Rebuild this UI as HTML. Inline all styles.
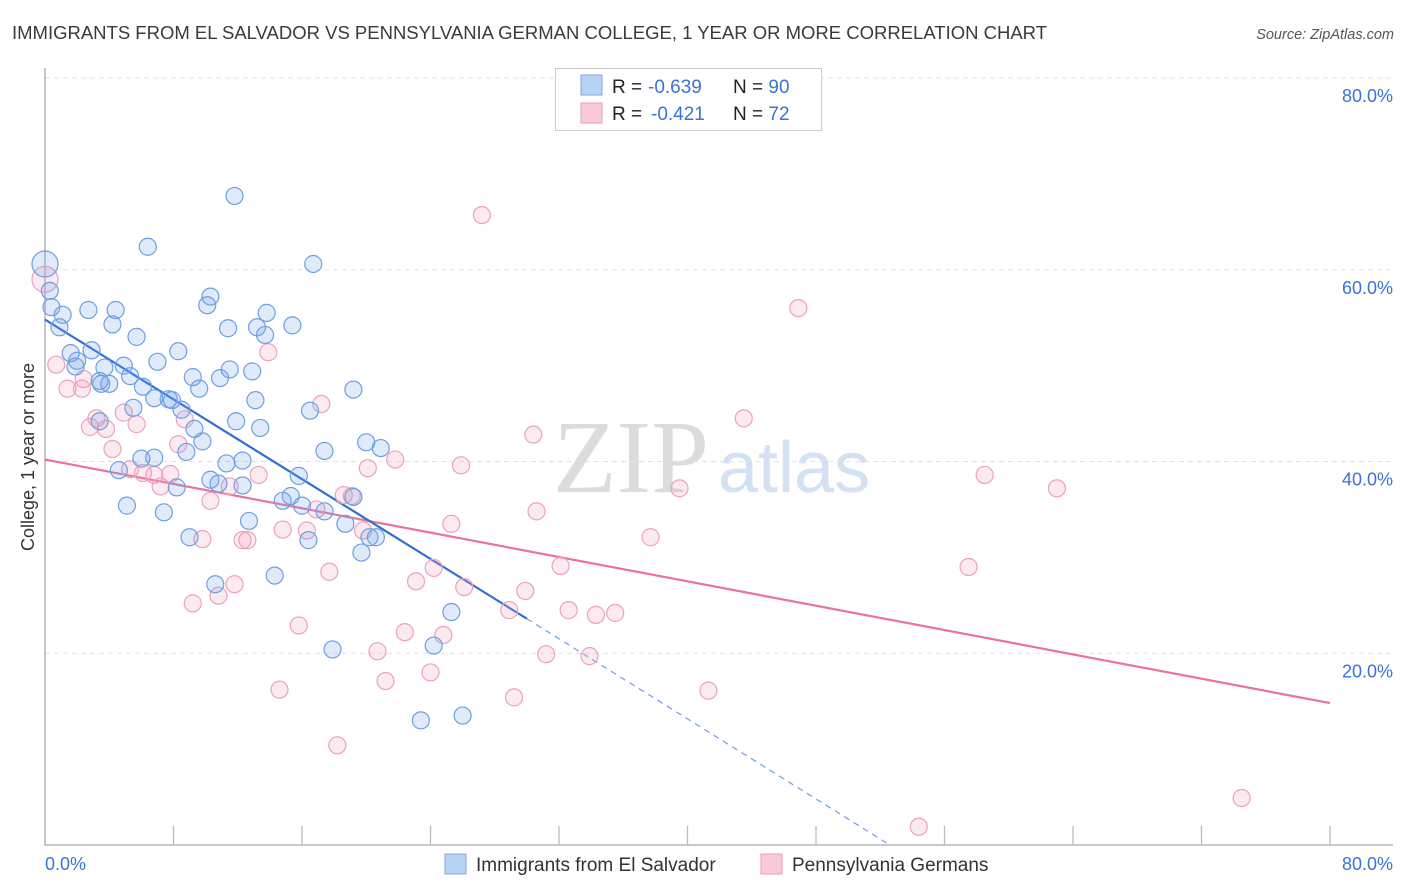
<!DOCTYPE html>
<html><head><meta charset="utf-8"><style>
body{margin:0;background:#fff;font-family:"Liberation Sans",sans-serif;}
#wrap{position:relative;width:1406px;height:892px;overflow:hidden;}
</style></head><body>
<div id="wrap">
<svg id="svg" width="1406" height="892" xmlns="http://www.w3.org/2000/svg" font-family="Liberation Sans, sans-serif">
<text x="12" y="39" font-size="18.5" fill="#3a3a3a" textLength="1035">IMMIGRANTS FROM EL SALVADOR VS PENNSYLVANIA GERMAN COLLEGE, 1 YEAR OR MORE CORRELATION CHART</text>
<text x="1394" y="39" font-size="14.5" fill="#555" font-style="italic" text-anchor="end">Source: ZipAtlas.com</text>
<text transform="translate(34,457) rotate(-90)" font-size="18" fill="#333" text-anchor="middle">College, 1 year or more</text>
<g>
<text x="553" y="492" font-size="104" fill="#dcdcdc" font-family="Liberation Serif, serif">ZIP</text>
<text x="718" y="492" font-size="72" fill="#d3e1f3">atlas</text>
</g>
<g id="grid"></g>
<g id="axes"></g>
<g id="lines"></g>
<g id="pts"></g>
<g>
<rect x="555.5" y="68.5" width="266" height="62" fill="#fff" stroke="#ccc"/>
<rect x="581" y="75" width="21" height="20" fill="#b8d3f5" stroke="#7aa8e6"/>
<rect x="581" y="103" width="21" height="20" fill="#fbcad9" stroke="#eb9ab5"/>
<text x="612" y="93" font-size="19" fill="#222">R = <tspan fill="#3a72d6" x="648">-0.639</tspan><tspan x="733">N = </tspan><tspan fill="#3a72d6">90</tspan></text>
<text x="612" y="120" font-size="19" fill="#222">R = <tspan fill="#3a72d6" x="651">-0.421</tspan><tspan x="733">N = </tspan><tspan fill="#3a72d6">72</tspan></text>
</g>
<g>
<rect x="445" y="854" width="21" height="20" fill="#b8d3f5" stroke="#7aa8e6"/>
<text x="476" y="871" font-size="19" fill="#333">Immigrants from El Salvador</text>
<rect x="761" y="854" width="21" height="20" fill="#fbcad9" stroke="#eb9ab5"/>
<text x="792" y="871" font-size="19" fill="#333">Pennsylvania Germans</text>
</g>
</svg>
</div>
<script>
const blueX=[0,0.3,0.4,1.1,0.9,2.7,4.4,4.2,5.7,1.6,2.9,2.0,3.4,3.7,3.5,4.0,1.9,4.9,5.3,6.1,7.0,8.3,6.4,11.8,16.7,10.3,10.1,11.4,13.8,13.2,13.7,15.4,11.5,12.9,10.9,9.2,9.6,6.8,7.7,8.5,7.9,5.5,3.4,9.3,9.8,11.9,13.1,13.4,16.5,19.2,20.0,20.9,17.4,8.8,6.0,6.8,11.3,12.3,4.6,8.2,10.3,10.8,12.3,15.8,15.3,14.8,16.0,17.4,18.7,19.2,20.2,20.6,19.7,12.7,7.4,5.1,9.0,16.4,10.6,14.3,17.9,25.3,24.2,23.4,26.0];
const blueY=[60.6,57.8,56.1,55.3,54.0,55.8,55.8,54.3,53.0,51.3,51.6,50.5,48.4,49.8,48.1,48.1,49.9,50.0,48.9,47.8,50.4,51.5,62.4,67.7,60.6,57.2,56.3,53.9,55.5,54.0,53.2,54.2,49.6,49.4,48.7,48.8,47.6,46.6,46.5,45.4,46.4,45.6,44.2,43.4,42.1,44.2,46.4,43.5,45.3,47.5,42.0,41.4,41.1,41.0,40.3,40.4,39.8,40.1,39.1,37.3,38.1,37.7,37.5,38.5,36.4,35.9,35.4,34.8,33.5,36.3,32.1,32.1,30.5,33.8,34.7,35.4,32.1,31.8,27.2,28.1,20.4,24.3,20.8,13.0,13.5];
const pinkX=[0,0.7,1.4,2.3,2.4,3.2,2.8,3.8,4.2,4.9,5.7,5.3,6.1,6.8,7.2,7.8,8.3,8.7,9.2,9.8,10.3,10.8,11.5,11.8,12.3,12.6,13.3,13.9,14.6,14.8,15.8,16.3,16.9,17.2,17.7,18.2,18.6,19.1,19.8,20.1,20.7,21.2,21.8,22.4,23.1,24.0,24.8,24.2,25.3,25.9,26.1,27.2,28.9,29.2,29.9,30.4,30.6,31.2,32.1,32.6,33.9,34.3,35.5,37.7,39.5,41.3,43.5,46.9,54.4,57.5,58.5,63.0,74.5];
const pinkY=[59.0,50.1,47.6,47.6,48.6,44.5,43.6,43.4,41.3,45.1,43.9,39.2,38.8,38.6,37.4,38.7,41.8,44.4,25.2,31.9,35.9,26.0,37.4,27.2,31.8,31.8,38.6,51.4,16.2,32.9,22.9,32.8,35.0,46.0,28.5,10.4,36.5,36.4,32.8,39.3,20.2,17.1,40.2,22.2,27.5,18.0,21.9,28.9,33.5,39.6,26.9,65.7,24.5,15.4,26.5,42.8,34.8,19.9,29.1,24.5,19.7,24.0,24.2,32.1,37.2,16.1,44.5,56.0,1.9,29.0,38.6,37.2,4.9];
const blueTrend=[[0,54.8],[30.0,23.6]];
const blueDash=[[30.0,23.6],[52.6,0]];
const pinkTrend=[[0,40.2],[80,14.8]];
const yTicks=[20,40,60,80];
const xTicks=[0,8,16,24,32,40,48,56,64,72,80];
const sx=v=>45+v*16.0625;
const sy=v=>845-v*9.5875;
const NS='http://www.w3.org/2000/svg';
function mk(tag,attrs,parent){const e=document.createElementNS(NS,tag);for(const k in attrs)e.setAttribute(k,attrs[k]);parent.appendChild(e);return e;}
const grid=document.getElementById('grid'),axes=document.getElementById('axes'),lines=document.getElementById('lines'),pts=document.getElementById('pts');
yTicks.forEach(t=>{
 const l=mk('line',{x1:45,x2:1393,y1:sy(t),y2:sy(t),stroke:'#e2e2e2','stroke-dasharray':'5,4'},grid);
 
 
 const tx=mk('text',{x:1393,y:sy(t)+24,'font-size':18,fill:'#3a72d6','text-anchor':'end'},axes);
 tx.textContent=t.toFixed(1)+'%';
 
 
});
const ax=mk('path',{d:'M45,68V845H1393',fill:'none',stroke:'#aaa','stroke-width':1.3},axes);


xTicks.forEach(t=>{if(t===0)return;
 const l=mk('line',{x1:sx(t),x2:sx(t),y1:826,y2:845,stroke:'#bbb','stroke-width':1.3},axes);
 
 
});
const xl0=mk('text',{x:45,y:870,'font-size':18,fill:'#3a72d6'},axes);xl0.textContent='0.0%';


const xl1=mk('text',{x:1393,y:870,'font-size':18,fill:'#3a72d6','text-anchor':'end'},axes);xl1.textContent='80.0%';


function drawPts(X,Y,fill,stroke,name){X.forEach((x,i)=>{
 const c=mk('circle',{cx:sx(x),cy:sy(Y[i]),r:i===0?13:8.5,fill:fill,stroke:stroke,'stroke-width':1.2},pts);
 
 
});}
drawPts(pinkX,pinkY,'rgba(245,160,190,0.22)','#eba2bb','point-pennsylvania-germans');
drawPts(blueX,blueY,'rgba(110,160,235,0.22)','#6f9fe0','point-el-salvador');
function ln(p,stroke,w,dash,name){const a={x1:sx(p[0][0]),y1:sy(p[0][1]),x2:sx(p[1][0]),y2:sy(p[1][1]),stroke:stroke,'stroke-width':w};if(dash)a['stroke-dasharray']=dash;const l=mk('line',a,lines);
 
 }
ln(pinkTrend,'#e8739b',2.2,null,'trend-pennsylvania-germans');
ln(blueTrend,'#2f6fd6',2.2,null,'trend-el-salvador');
ln(blueDash,'#6f9fe0',1.2,'6,5','trend-el-salvador-extension');
</script>
</body></html>
